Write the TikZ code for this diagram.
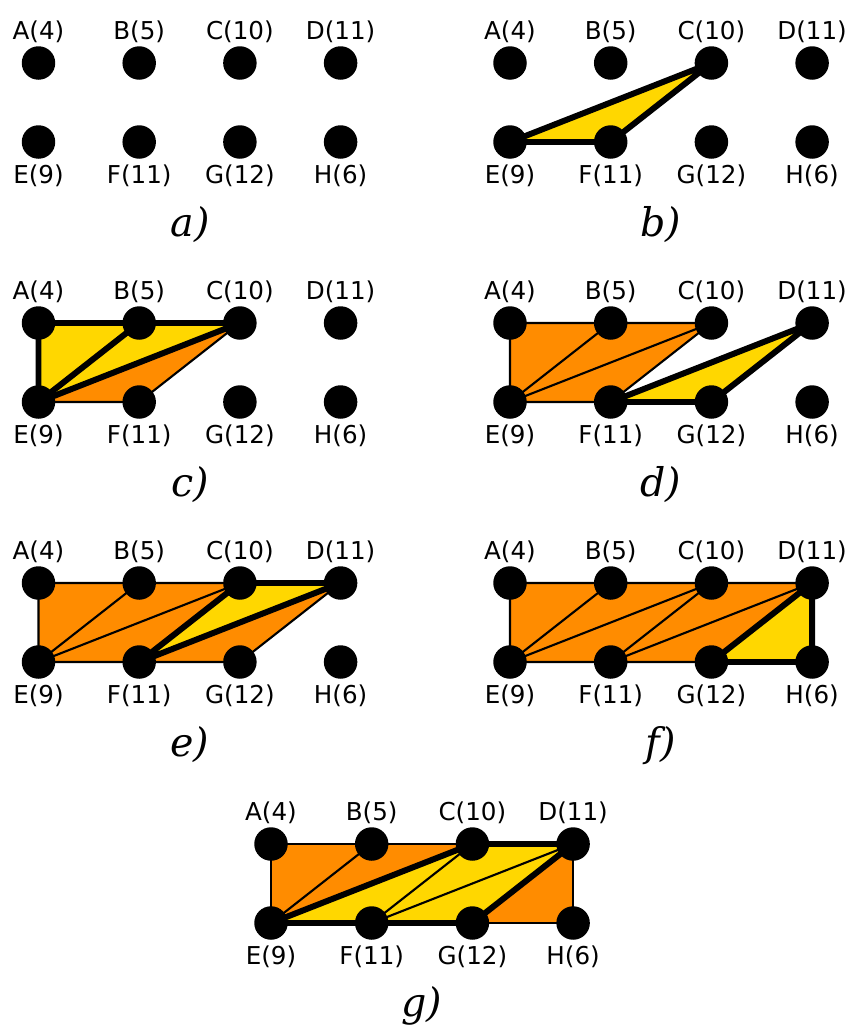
\documentclass[tikz,border=0pt]{standalone}
\usepackage{fontspec}
\setsansfont{DejaVu Sans}
\newfontfamily\capfont{DejaVu Serif}
\usetikzlibrary{positioning, backgrounds}
\definecolor{hullorange}{HTML}{FF8C00}
\definecolor{newyellow}{HTML}{FFD700}
\tikzset{
  pt/.style={
    circle,
    fill=black,
    minimum size=0.67cm,
    inner sep=0pt
  },
  lbl/.style={
    inner sep=0pt,
    font=\sffamily\fontsize{14}{16}\selectfont
  },
  caption/.style={
    anchor=base,
    font=\capfont\itshape\fontsize{22.5}{26}\selectfont
  },
  hull/.style={fill=hullorange, draw=black, line width=1.2pt, line join=round},
  thinedge/.style={draw=black, line width=1.2pt},
  newtri/.style={fill=newyellow, draw=black, line width=3.4pt, line join=round},
  thickedge/.style={draw=black, line width=3.4pt, line cap=round}
}
% one panel of points: prefix, x of A, y of top row (pixel units)
\newcommand{\pointgrid}[3]{%
  \foreach \nm/\val/\i in {A/4/0, B/5/1, C/10/2, D/11/3} {
    \node[pt] (#1-\nm) at (#2+100.7*\i, #3) {};
    \node[lbl, above=0.06cm of #1-\nm] (#1-\nm-l) {\nm(\val)};
  }
  \foreach \nm/\val/\i in {E/9/0, F/11/1, G/12/2, H/6/3} {
    \node[pt] (#1-\nm) at (#2+100.7*\i, #3+79) {};
    \node[lbl, below=0.1cm of #1-\nm] (#1-\nm-l) {\nm(\val)};
  }
}

\begin{document}
\begin{tikzpicture}[x=0.02cm, y=-0.02cm]
  \useasboundingbox (0,0) rectangle (850,1025);

  \pointgrid{a}{38.5}{63}
  \pointgrid{b}{510}{63}
  \pointgrid{c}{38.5}{323}
  \pointgrid{d}{510}{323}
  \pointgrid{e}{38.5}{583}
  \pointgrid{f}{510}{583}
  \pointgrid{g}{271}{844}

  \node[caption] (cap-a) at (190,236) {a)};
  \node[caption] (cap-b) at (661,236) {b)};
  \node[caption] (cap-c) at (190,496) {c)};
  \node[caption] (cap-d) at (661,496) {d)};
  \node[caption] (cap-e) at (190,756) {e)};
  \node[caption] (cap-f) at (661,756) {f)};
  \node[caption] (cap-g) at (421.5,1016) {g)};

  \begin{scope}[on background layer]
    % b)
    \draw[newtri] (b-E.center) -- (b-F.center) -- (b-C.center) -- cycle;

    % c)
    \draw[hull] (c-E.center) -- (c-F.center) -- (c-C.center) -- cycle;
    \draw[newtri] (c-E.center) -- (c-A.center) -- (c-B.center) -- (c-C.center) -- cycle;
    \draw[thickedge] (c-E.center) -- (c-B.center);

    % d)
    \draw[hull] (d-A.center) -- (d-C.center) -- (d-F.center) -- (d-E.center) -- cycle;
    \draw[thinedge] (d-E.center) -- (d-B.center);
    \draw[thinedge] (d-E.center) -- (d-C.center);
    \draw[newtri] (d-F.center) -- (d-G.center) -- (d-D.center) -- cycle;

    % e)
    \draw[hull] (e-A.center) -- (e-D.center) -- (e-G.center) -- (e-E.center) -- cycle;
    \draw[thinedge] (e-E.center) -- (e-B.center);
    \draw[thinedge] (e-E.center) -- (e-C.center);
    \draw[newtri] (e-F.center) -- (e-C.center) -- (e-D.center) -- cycle;

    % f)
    \draw[hull] (f-A.center) -- (f-D.center) -- (f-G.center) -- (f-E.center) -- cycle;
    \draw[thinedge] (f-E.center) -- (f-B.center);
    \draw[thinedge] (f-E.center) -- (f-C.center);
    \draw[thinedge] (f-F.center) -- (f-C.center);
    \draw[thinedge] (f-F.center) -- (f-D.center);
    \draw[newtri] (f-G.center) -- (f-D.center) -- (f-H.center) -- cycle;

    % g)
    \draw[hull] (g-A.center) -- (g-D.center) -- (g-H.center) -- (g-E.center) -- cycle;
    \draw[thinedge] (g-E.center) -- (g-B.center);
    \draw[newtri] (g-E.center) -- (g-C.center) -- (g-D.center) -- (g-G.center) -- cycle;
    \draw[thinedge] (g-F.center) -- (g-C.center);
    \draw[thinedge] (g-F.center) -- (g-D.center);
  \end{scope}
\end{tikzpicture}
\end{document}
